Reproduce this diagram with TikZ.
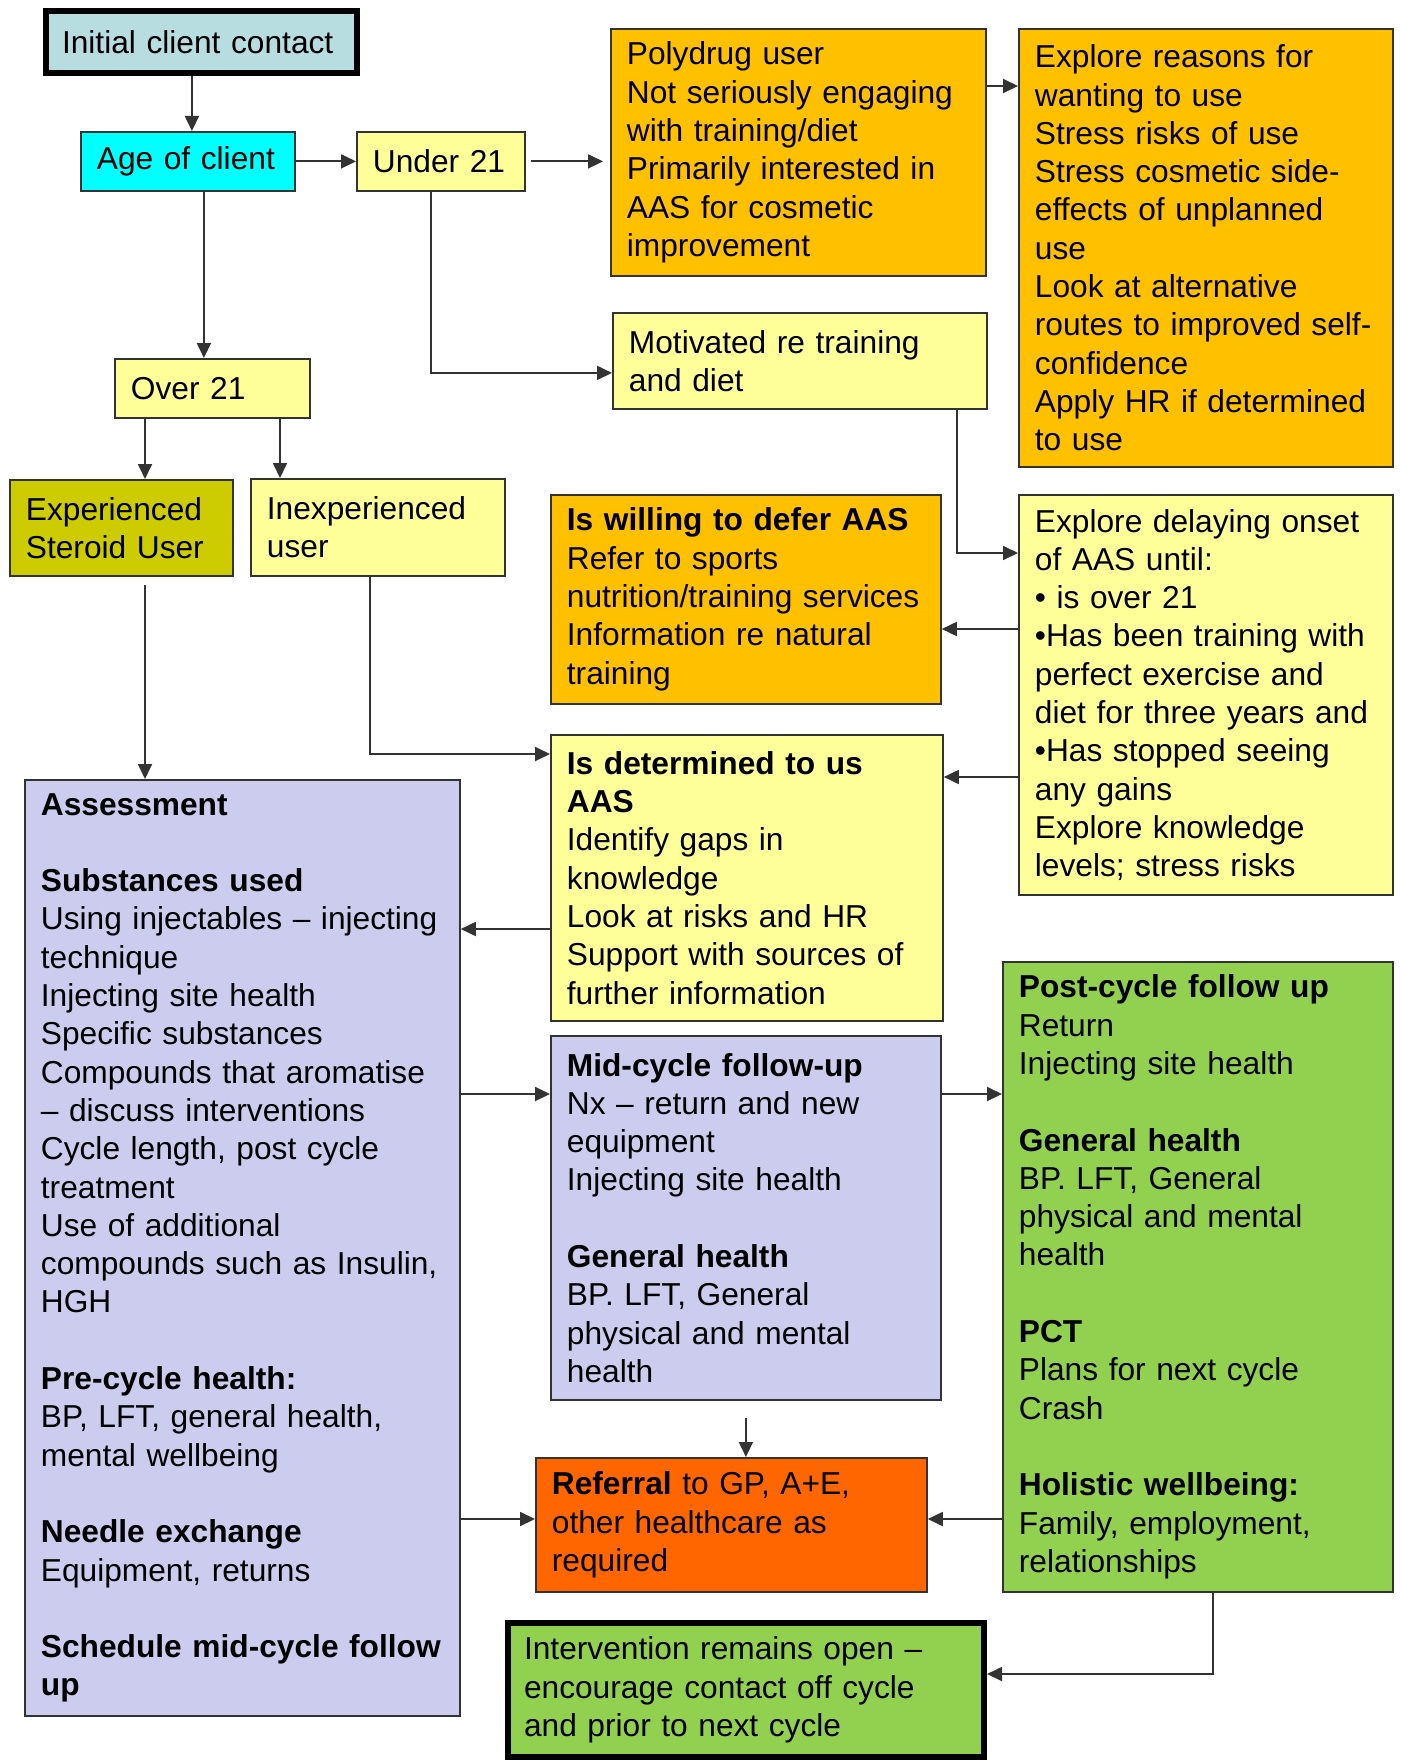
\documentclass[tikz,border=0pt]{standalone}
\usepackage{fontspec}
\setmainfont{Liberation Sans}
\usepackage{xcolor}
\usetikzlibrary{arrows.meta}
\definecolor{paleblue}{RGB}{183,221,225}
\definecolor{aqua}{RGB}{0,255,255}
\definecolor{paleyellow}{RGB}{255,255,153}
\definecolor{amber}{RGB}{255,192,0}
\definecolor{darkyellow}{RGB}{204,204,0}
\definecolor{lavender}{RGB}{204,204,238}
\definecolor{leaf}{RGB}{146,208,80}
\definecolor{redorange}{RGB}{255,102,0}
\definecolor{edgegray}{RGB}{51,51,51}

\begin{document}
\begin{tikzpicture}[x=1pt,y=-1pt,
    box/.style={draw=edgegray, line width=1.8pt, anchor=north west, align=left,
      inner xsep=16pt, inner ysep=0pt, font=\fontsize{31.7}{38.3}\selectfont},
    heavy/.style={box, draw=black, line width=6pt},
    vh/.style={to path={|- (\tikztotarget)}},
    >={Triangle[length=15pt,width=14pt]}]
        \useasboundingbox (0,0) rectangle (1402,1760);

        \node[heavy, fill=paleblue, minimum width=311pt, minimum height=62pt, text width=279pt](1) at (43,8) {Initial client contact};
        \node[box, fill=aqua, minimum width=214pt, minimum height=59pt, text width=182pt](2) at (80,131) {Age of client};
        \node[box, fill=paleyellow, minimum width=168pt, minimum height=59pt, text width=136pt](3) at (356,131) {Under 21};
        \node[box, fill=amber, minimum width=375pt, minimum height=247pt, text width=343pt](4) at (610,28) {Polydrug user\\Not seriously engaging\\with training/diet\\Primarily interested in\\AAS for cosmetic\\improvement};
        \node[box, fill=amber, minimum width=374pt, minimum height=438pt, text width=342pt](5) at (1018,28) {Explore reasons for\\wanting to use\\Stress risks of use\\Stress cosmetic side-\\effects of unplanned\\use\\Look at alternative\\routes to improved self-\\confidence\\Apply HR if determined\\to use};
        \node[box, fill=paleyellow, minimum width=374pt, minimum height=96pt, text width=342pt](6) at (612,312) {Motivated re training\\and diet};
        \node[box, fill=paleyellow, minimum width=195pt, minimum height=59pt, text width=163pt](7) at (114,358) {Over 21};
        \node[box, fill=darkyellow, minimum width=223pt, minimum height=96pt, text width=191pt](8) at (9,479) {Experienced\\Steroid User};
        \node[box, fill=paleyellow, minimum width=254pt, minimum height=97pt, text width=222pt](9) at (250,478) {Inexperienced\\user};
        \node[box, fill=amber, minimum width=390pt, minimum height=209pt, text width=358pt](10) at (550,494) {\textbf{Is willing to defer AAS}\\Refer to sports\\nutrition/training services\\Information re natural\\training};
        \node[box, fill=paleyellow, minimum width=374pt, minimum height=400pt, text width=342pt](11) at (1018,494) {Explore delaying onset\\of AAS until:\\• is over 21\\•Has been training with\\perfect exercise and\\diet for three years and\\•Has stopped seeing\\any gains\\Explore knowledge\\levels; stress risks};
        \node[box, fill=paleyellow, minimum width=392pt, minimum height=286pt, text width=360pt](12) at (550,734) {\textbf{Is determined to us}\\\textbf{AAS}\\Identify gaps in\\knowledge\\Look at risks and HR\\Support with sources of\\further information};
        \node[box, fill=lavender, minimum width=435pt, minimum height=936pt, text width=403pt](13) at (24,779) {\textbf{Assessment}\\[38.3pt]\textbf{Substances used}\\Using injectables – injecting\\technique\\Injecting site health\\Specific substances\\Compounds that aromatise\\– discuss interventions\\Cycle length, post cycle\\treatment\\Use of additional\\compounds such as Insulin,\\HGH\\[38.3pt]\textbf{Pre-cycle health:}\\BP, LFT, general health,\\mental wellbeing\\[38.3pt]\textbf{Needle exchange}\\Equipment, returns\\[38.3pt]\textbf{Schedule mid-cycle follow}\\\textbf{up}};
        \node[box, fill=lavender, minimum width=390pt, minimum height=364pt, text width=358pt](14) at (550,1035) {\textbf{Mid-cycle follow-up}\\Nx – return and new\\equipment\\Injecting site health\\[38.3pt]\textbf{General health}\\BP. LFT, General\\physical and mental\\health};
        \node[box, fill=leaf, minimum width=390pt, minimum height=630pt, text width=358pt](15) at (1002,961) {\textbf{Post-cycle follow up}\\Return\\Injecting site health\\[38.3pt]\textbf{General health}\\BP. LFT, General\\physical and mental\\health\\[38.3pt]\textbf{PCT}\\Plans for next cycle\\Crash\\[38.3pt]\textbf{Holistic wellbeing:}\\Family, employment,\\relationships};
        \node[box, fill=redorange, minimum width=391pt, minimum height=134pt, text width=359pt](16) at (535,1457) {\textbf{Referral} to GP, A+E,\\other healthcare as\\required};
        \node[heavy, fill=leaf, minimum width=476pt, minimum height=134pt, text width=444pt](17) at (505,1620) {Intervention remains open –\\encourage contact off cycle\\and prior to next cycle};

        \path[->, edgegray, line width=1.8pt]
        ([xshift=4pt]2.north |- 1.south) edge ([xshift=4pt]2.north)
        (2) edge (3)
        ([xshift=5pt]3.east) edge[shorten >=7pt] (3.east -| 4.west)
        ([yshift=-58pt]4.north east) edge ([yshift=-58pt]4.north east -| 5.west)
        ([xshift=-10pt]3.south) edge[vh] ([yshift=-12pt]6.west)
        ([xshift=16pt]2.south) edge ([xshift=16pt]2.south |- 7.north)
        ([xshift=31pt]7.south west) edge ([xshift=31pt]7.south west |- 8.north)
        ([xshift=166pt]7.south west) edge ([xshift=166pt]7.south west |- 9.north)
        ([xshift=-31pt]6.south east) edge[vh] ([yshift=-59pt]11.north west)
        ([yshift=-135pt]11.north west) edge ([yshift=-135pt]11.north west -| 10.east)
        ([yshift=-283pt]11.north west) edge ([yshift=-283pt]11.north west -| 12.east)
        ([xshift=120pt]9.south west) edge[vh] ([yshift=-20pt]12.north west)
        ([xshift=136pt]8.south west) edge[shorten <=8pt] ([xshift=136pt]8.south west |- 13.north)
        ([yshift=-195pt]12.north west) edge ([yshift=-195pt]12.north west -| 13.east)
        ([yshift=-59pt]14.north west -| 13.east) edge ([yshift=-59pt]14.north west)
        ([yshift=-59pt]14.north east) edge ([yshift=-59pt]14.north east -| 15.west)
        (14.south) edge[shorten <=17pt] (14.south |- 16.north)
        ([yshift=-62pt]16.north west -| 13.east) edge ([yshift=-62pt]16.north west)
        ([yshift=-62pt]16.north east -| 15.west) edge ([yshift=-62pt]16.north east)
        ([xshift=211pt]15.south west) edge[vh] ([yshift=16pt]17.east)
        ;
\end{tikzpicture}
\end{document}
